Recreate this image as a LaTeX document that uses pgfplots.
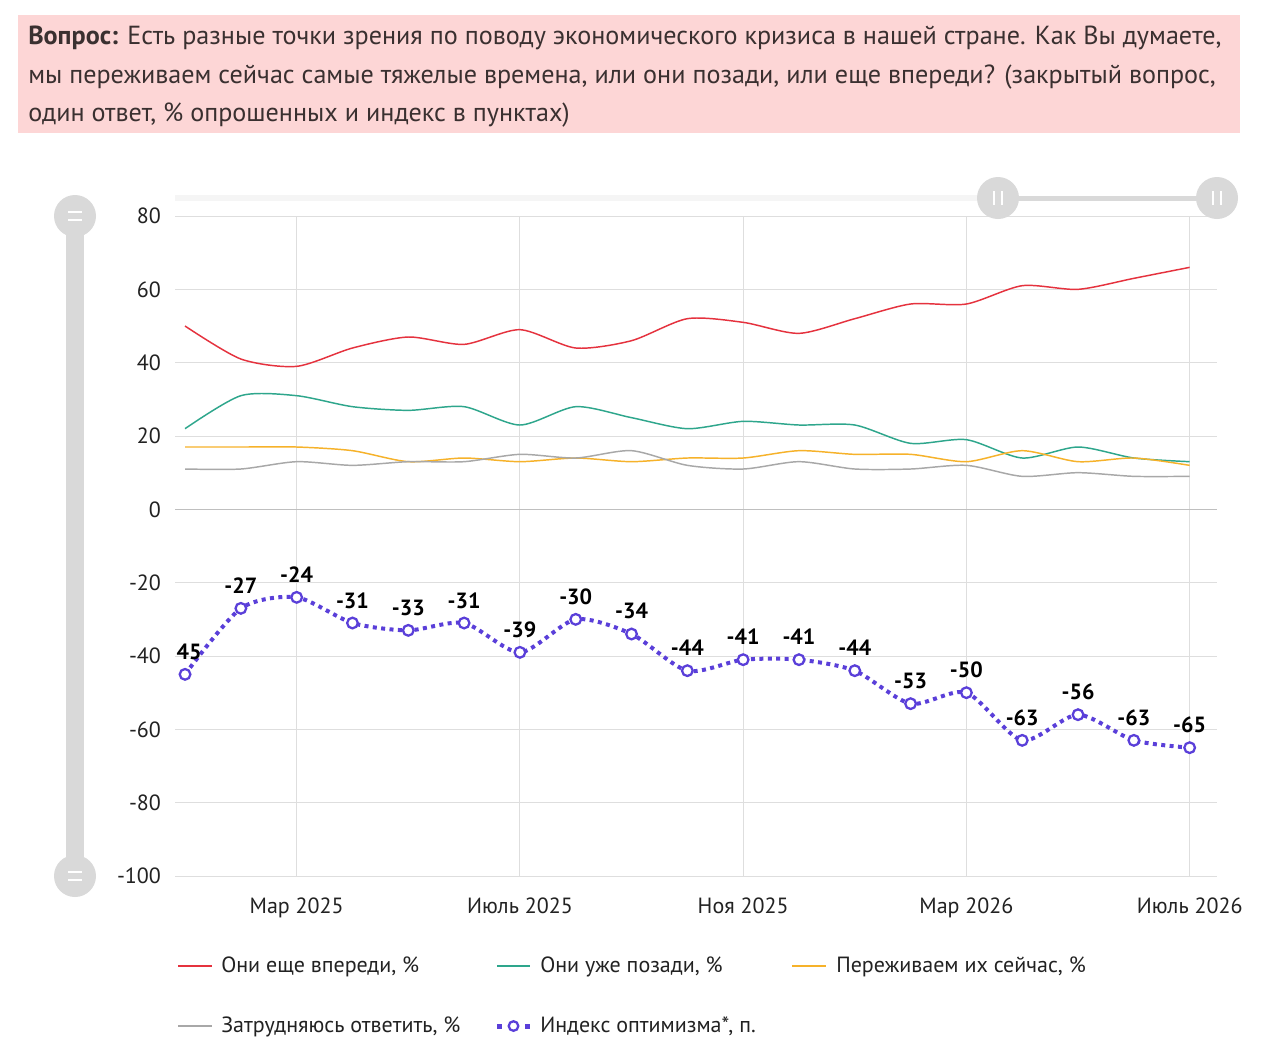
\documentclass[border=0pt]{standalone}
\usepackage{pgfplots}
\pgfplotsset{compat=1.18}
\usepackage{fontspec}
\setmainfont{PT Sans}
\definecolor{cred}{HTML}{E5323E}
\definecolor{cteal}{HTML}{2EA68C}
\definecolor{corange}{HTML}{F6B22A}
\definecolor{cgray}{HTML}{A8A8A8}
\definecolor{cidx}{HTML}{5A3FD9}
\definecolor{cpink}{HTML}{FDD6D6}
\definecolor{cgrid}{HTML}{DEDEDE}
\definecolor{cslider}{HTML}{D9D9D9}
\definecolor{ctxt}{HTML}{222222}
\definecolor{ctitle}{HTML}{3A3030}
\begin{document}
\begin{tikzpicture}
\begin{scope}[x=0.75pt,y=-0.75pt]
\useasboundingbox (0,0) rectangle (1280,1051);
\fill[white] (0,0) rectangle (1280,1051);
% title box
\fill[cpink] (18,15) rectangle (1240,133);
\node[anchor=base west, inner sep=0, text=ctitle, font=\fontsize{19.6}{23}\selectfont] at (28,44) {\textbf{Вопрос:} Есть разные точки зрения по поводу экономического кризиса в нашей стране. Как Вы думаете,};
\node[anchor=base west, inner sep=0, text=ctitle, font=\fontsize{19.6}{23}\selectfont] at (28,83) {мы переживаем сейчас самые тяжелые времена, или они позади, или еще впереди? (закрытый вопрос,};
\node[anchor=base west, inner sep=0, text=ctitle, font=\fontsize{19.6}{23}\selectfont] at (28,121) {один ответ, \% опрошенных и индекс в пунктах)};
% top faint track
\fill[black!4] (175,195) rectangle (998,201);
\end{scope}

\begin{axis}[
  at={(131.25pt,-657pt)}, anchor=south west,
  scale only axis, width=781.5pt, height=495pt,
  xmin=-0.18, xmax=18.49, ymin=-100, ymax=80,
  axis line style={draw=none}, tick style={draw=none},
  xtick={2,6,10,14,18},
  xticklabels={Мар 2025, Июль 2025, Ноя 2025, Мар 2026, Июль 2026},
  ytick={-100,-80,-60,-40,-20,0,20,40,60,80},
  yticklabels={-100,-80,-60,-40,-20,0,20,40,60,80},
  xmajorgrids, ymajorgrids,
  major grid style={draw=cgrid, line width=0.75pt},
  ticklabel style={font=\fontsize{16.5}{20}\selectfont, text=ctxt},
  yticklabel style={xshift=-7pt},
  xticklabel style={yshift=-12.5pt},
  extra y ticks={0}, extra y tick labels={},
  extra y tick style={grid=major, major grid style={draw=black!25, line width=0.75pt}},
]
\addplot[cred, line width=1.1pt, smooth, tension=0.45] coordinates {
(0,50) (1,41) (2,39) (3,44) (4,47) (5,45) (6,49) (7,44) (8,46) (9,52)
(10,51) (11,48) (12,52) (13,56) (14,56) (15,61) (16,60) (17,63) (18,66)};
\addplot[cteal, line width=1.1pt, smooth, tension=0.45] coordinates {
(0,22) (1,31) (2,31) (3,28) (4,27) (5,28) (6,23) (7,28) (8,25) (9,22)
(10,24) (11,23) (12,23) (13,18) (14,19) (15,14) (16,17) (17,14) (18,13)};
\addplot[corange, line width=1.1pt, smooth, tension=0.45] coordinates {
(0,17) (1,17) (2,17) (3,16) (4,13) (5,14) (6,13) (7,14) (8,13) (9,14)
(10,14) (11,16) (12,15) (13,15) (14,13) (15,16) (16,13) (17,14) (18,12)};
\addplot[cgray, line width=1.1pt, smooth, tension=0.45] coordinates {
(0,11) (1,11) (2,13) (3,12) (4,13) (5,13) (6,15) (7,14) (8,16) (9,12)
(10,11) (11,13) (12,11) (13,11) (14,12) (15,9) (16,10) (17,9) (18,9)};
\addplot[cidx, line width=3pt, dash pattern=on 3pt off 3.3pt, smooth, tension=0.45,
  mark=*, mark size=4pt, mark options={solid, fill=white, draw=cidx, line width=1.7pt},
  nodes near coords, point meta=explicit symbolic,
  nodes near coords align={anchor=center},
  every node near coord/.append style={yshift=17pt, text=black, font=\bfseries\fontsize{16.5}{20}\selectfont}]
coordinates {
(0,-45) [\phantom{-}45] (1,-27) [-27] (2,-24) [-24] (3,-31) [-31] (4,-33) [-33]
(5,-31) [-31] (6,-39) [-39] (7,-30) [-30] (8,-34) [-34] (9,-44) [-44]
(10,-41) [-41] (11,-41) [-41] (12,-44) [-44] (13,-53) [-53] (14,-50) [-50]
(15,-63) [-63] (16,-56) [-56] (17,-63) [-63] (18,-65) [-65]};
\end{axis}

\begin{scope}[x=0.75pt,y=-0.75pt]
% left vertical slider
\fill[cslider] (66,216) rectangle (84,876);
\fill[cslider] (75,216) circle (21);
\fill[cslider] (75,876) circle (21);
\draw[white, line width=1.5pt] (68,212) -- (82,212) (68,220) -- (82,220);
\draw[white, line width=1.5pt] (68,872) -- (82,872) (68,880) -- (82,880);
% top slider
\fill[cslider] (998,195.5) rectangle (1217,200.5);
\fill[cslider] (998,198) circle (21);
\fill[cslider] (1217,198) circle (21);
\draw[white, line width=1.5pt] (994,191) -- (994,205) (1002,191) -- (1002,205);
\draw[white, line width=1.5pt] (1213,191) -- (1213,205) (1221,191) -- (1221,205);
% legend
\def\lfont{\fontsize{16.5}{20}\selectfont}
\draw[cred, line width=1.1pt] (178,966) -- (212,966);
\node[anchor=base west, inner sep=0, text=ctxt, font=\lfont] at (221,972) {Они еще впереди, \%};
\draw[cteal, line width=1.1pt] (497,966) -- (530,966);
\node[anchor=base west, inner sep=0, text=ctxt, font=\lfont] at (540,972) {Они уже позади, \%};
\draw[corange, line width=1.1pt] (792,966) -- (826,966);
\node[anchor=base west, inner sep=0, text=ctxt, font=\lfont] at (836,972) {Переживаем их сейчас, \%};
\draw[cgray, line width=1.1pt] (178,1026) -- (212,1026);
\node[anchor=base west, inner sep=0, text=ctxt, font=\lfont] at (221,1032) {Затрудняюсь ответить, \%};
\fill[cidx] (497,1023.5) rectangle (502,1028.5);
\fill[cidx] (525,1023.5) rectangle (530,1028.5);
\draw[cidx, fill=white, line width=1.7pt] (513.5,1026) circle (4.8);
\node[anchor=base west, inner sep=0, text=ctxt, font=\lfont] at (540,1032) {Индекс оптимизма*, п.};
\end{scope}
\end{tikzpicture}
\end{document}
